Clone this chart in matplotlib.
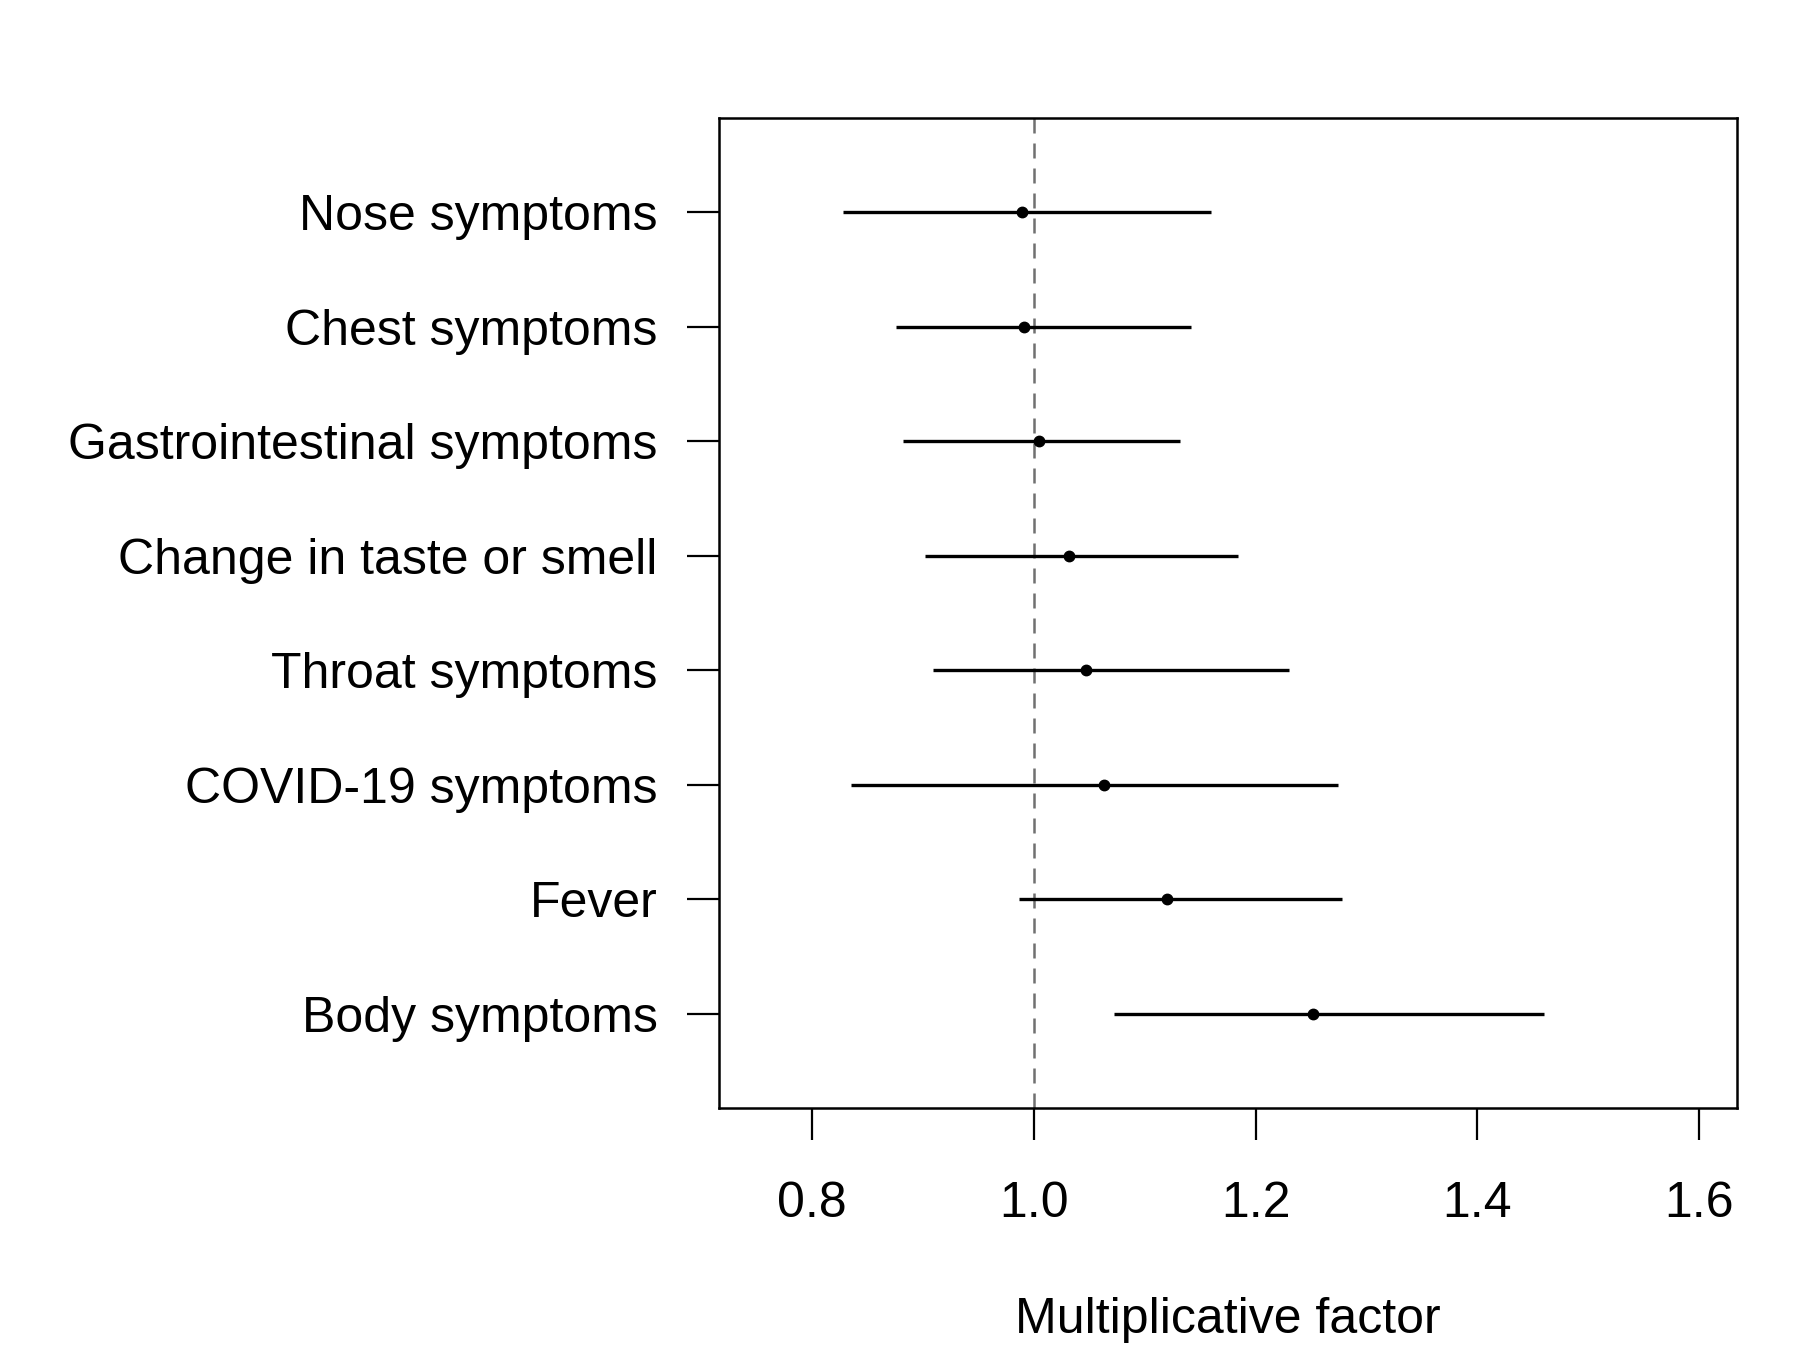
import matplotlib
matplotlib.use("Agg")
import matplotlib.pyplot as plt

# Symptom categories, top to bottom as shown
labels = [
    "Nose symptoms",
    "Chest symptoms",
    "Gastrointestinal symptoms",
    "Change in taste or smell",
    "Throat symptoms",
    "COVID-19 symptoms",
    "Fever",
    "Body symptoms",
]
estimate = [0.989, 0.991, 1.005, 1.032, 1.047, 1.063, 1.120, 1.252]
lower = [0.828, 0.876, 0.882, 0.902, 0.909, 0.835, 0.987, 1.072]
upper = [1.160, 1.142, 1.132, 1.184, 1.230, 1.274, 1.278, 1.460]
xticks = [0.8, 1.0, 1.2, 1.4, 1.6]

plt.rcParams["font.family"] = ["Liberation Sans", "DejaVu Sans"]

fig = plt.figure(figsize=(18, 13.5), dpi=100)
ax = fig.add_axes([0.3994, 0.1796, 0.5656, 0.7329])

n = len(labels)
ypos = list(range(n, 0, -1))

# reference line at 1
ax.axvline(1.0, color="#707070", lw=1.8, linestyle=(0, (6, 4)), zorder=1)

# confidence intervals and point estimates
ax.hlines(ypos, lower, upper, color="black", lw=2.4, zorder=2)
ax.plot(estimate, ypos, "o", color="black", markersize=7.5, zorder=3)

# R-style 4% expanded limits
xr = (0.75, 1.6)
ext = (xr[1] - xr[0]) * 0.04
ax.set_xlim(xr[0] - ext, xr[1] + ext)
yr = (0.5, n + 0.5)
ext = (yr[1] - yr[0]) * 0.04
ax.set_ylim(yr[0] - ext, yr[1] + ext)

ax.set_xticks(xticks)
ax.set_xticklabels([f"{t:.1f}" for t in xticks])
ax.set_yticks(ypos)
ax.set_yticklabels(labels)

ax.tick_params(axis="both", direction="out", length=23, width=1.6,
               labelsize=36, colors="black")
ax.tick_params(axis="x", pad=30)
ax.tick_params(axis="y", pad=21)

for s in ax.spines.values():
    s.set_linewidth(1.8)

ax.set_xlabel("Multiplicative factor", fontsize=36, labelpad=50)

fig.savefig("out.png", dpi=100)
